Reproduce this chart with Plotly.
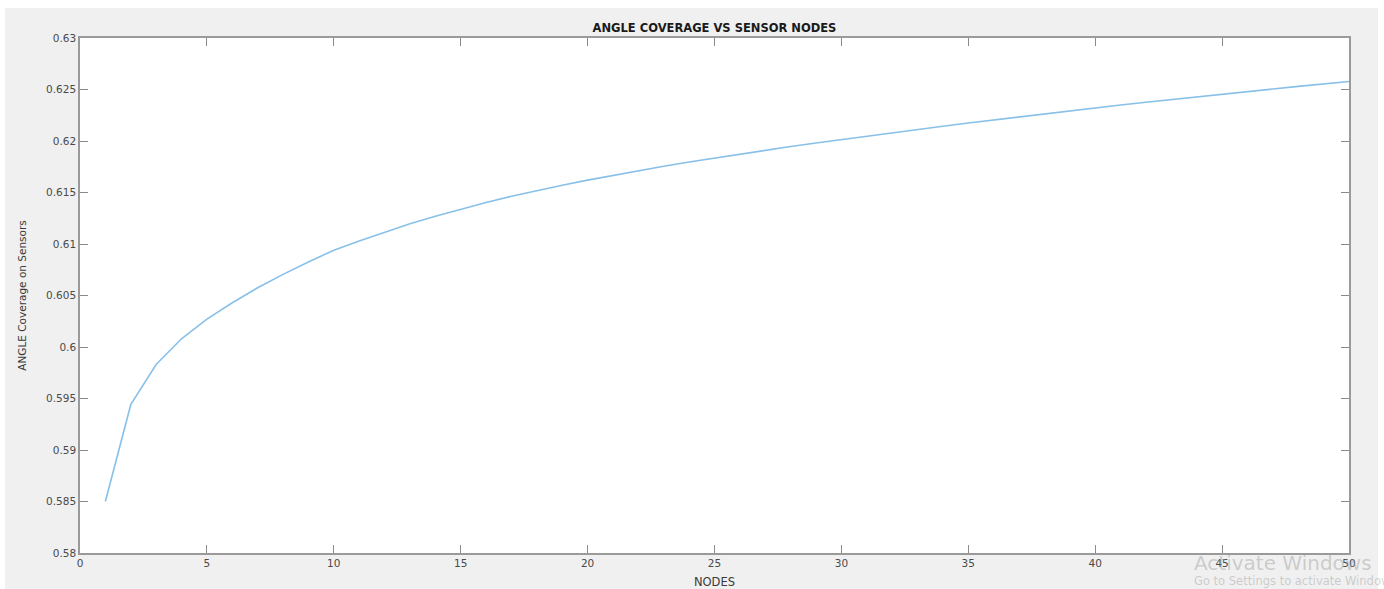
import plotly.graph_objects as go

# Angle coverage measured for each number of sensor nodes
nodes = list(range(1, 51))
coverage = [
    0.58500, 0.59440, 0.59830, 0.60080, 0.60270, 0.60430, 0.60575, 0.60705, 0.60825, 0.60940,
    0.61030, 0.61116, 0.61196, 0.61270, 0.61339, 0.61403, 0.61463, 0.61519, 0.61571, 0.61620,
    0.61667, 0.61712, 0.61755, 0.61796, 0.61835, 0.61873, 0.61910, 0.61946, 0.61981, 0.62015,
    0.62048, 0.62081, 0.62113, 0.62144, 0.62175, 0.62205, 0.62235, 0.62264, 0.62293, 0.62321,
    0.62349, 0.62376, 0.62403, 0.62429, 0.62455, 0.62480, 0.62505, 0.62530, 0.62554, 0.62578,
]

x_ticks = [0, 5, 10, 15, 20, 25, 30, 35, 40, 45, 50]
y_ticks = [0.58, 0.585, 0.59, 0.595, 0.6, 0.605, 0.61, 0.615, 0.62, 0.625, 0.63]
y_tick_text = ["0.58", "0.585", "0.59", "0.595", "0.6", "0.605",
               "0.61", "0.615", "0.62", "0.625", "0.63"]

W, H = 1384, 589
L, R, T, B = 80, 35, 38, 36
pw, ph = W - L - R, H - T - B


def px_x(p):
    return (p - L) / pw


def px_y(p):
    return (H - B - p) / ph


FONT = "DejaVu Sans, Arial, sans-serif"
AXIS_GRAY = "#9a9a9a"

fig = go.Figure()
fig.add_trace(go.Scatter(
    x=nodes, y=coverage, mode="lines",
    line=dict(color="#88c0e8", width=1.6),
    showlegend=False,
))

axis_common = dict(
    showgrid=False, zeroline=False, showline=True, mirror="ticks",
    linecolor=AXIS_GRAY, linewidth=1.5,
    ticks="inside", ticklen=8, tickwidth=1, tickcolor="#8a8a8a",
    tickfont=dict(family=FONT, size=10.5, color="#4a4a4a"),
    automargin=False,
)

fig.update_xaxes(
    range=[0, 50], tickvals=x_ticks, ticktext=[str(v) for v in x_ticks],
    title=dict(text="NODES", font=dict(family=FONT, size=11.5, color="#3a3a3a"), standoff=11),
    **axis_common,
)
fig.update_yaxes(
    range=[0.58, 0.63], tickvals=y_ticks, ticktext=y_tick_text,
    title=dict(text="ANGLE Coverage on Sensors", font=dict(family=FONT, size=10.5, color="#3a3a3a"),
               standoff=17),
    **axis_common,
)

fig.update_layout(
    width=W, height=H,
    margin=dict(l=L, r=R, t=T, b=B),
    paper_bgcolor="white",
    plot_bgcolor="white",
    title=dict(
        text="<b>ANGLE COVERAGE VS SENSOR NODES</b>",
        font=dict(family=FONT, size=11.5, color="#1a1a1a"),
        x=0.5, xref="paper", xanchor="center",
        y=1 - 28 / H, yanchor="middle",
    ),
    shapes=[
        # grey figure window
        dict(type="rect", xref="paper", yref="paper",
             x0=px_x(5), x1=px_x(1378), y0=px_y(589), y1=px_y(8),
             fillcolor="#f0f0f0", line=dict(width=0), layer="below"),
        # white axes area
        dict(type="rect", xref="paper", yref="paper",
             x0=0, x1=1, y0=0, y1=1,
             fillcolor="white", line=dict(width=0), layer="below"),
    ],
    annotations=[
        dict(text="Activate Windows", xref="paper", yref="paper",
             x=px_x(1192), y=px_y(563), xanchor="left", yanchor="middle",
             showarrow=False,
             font=dict(family="DejaVu Sans, sans-serif", size=20, color="rgba(150,150,150,0.42)")),
        dict(text="Go to Settings to activate Windows.", xref="paper", yref="paper",
             x=px_x(1192), y=px_y(581), xanchor="left", yanchor="middle",
             showarrow=False,
             font=dict(family="DejaVu Sans, sans-serif", size=11.5, color="rgba(150,150,150,0.42)")),
    ],
)

fig.write_html("out.html")
